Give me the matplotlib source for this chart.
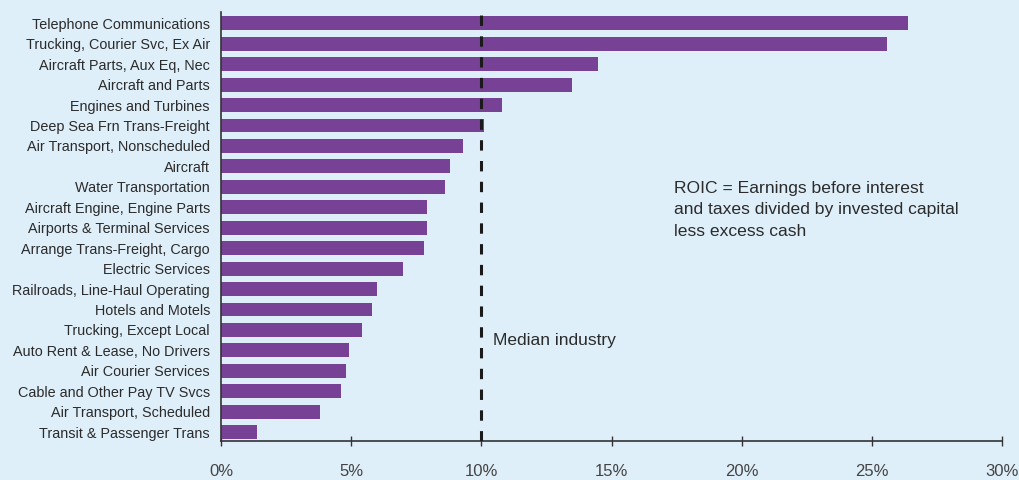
import matplotlib.pyplot as plt
import numpy as np

plt.rcParams['font.family'] = ['Liberation Sans', 'DejaVu Sans']

industries = [
    'Telephone Communications', 'Trucking, Courier Svc, Ex Air', 'Aircraft Parts, Aux Eq, Nec',
    'Aircraft and Parts', 'Engines and Turbines', 'Deep Sea Frn Trans-Freight',
    'Air Transport, Nonscheduled', 'Aircraft', 'Water Transportation',
    'Aircraft Engine, Engine Parts', 'Airports & Terminal Services', 'Arrange Trans-Freight, Cargo',
    'Electric Services', 'Railroads, Line-Haul Operating', 'Hotels and Motels',
    'Trucking, Except Local', 'Auto Rent & Lease, No Drivers', 'Air Courier Services',
    'Cable and Other Pay TV Svcs', 'Air Transport, Scheduled', 'Transit & Passenger Trans',
]
roic = [26.4, 25.6, 14.5, 13.5, 10.8, 10.1, 9.3, 8.8, 8.6, 7.9, 7.9, 7.8,
        7.0, 6.0, 5.8, 5.4, 4.9, 4.8, 4.6, 3.8, 1.4]
median_roic = 10
xticks = [0, 5, 10, 15, 20, 25, 30]

bg = '#dfeffa'
purple = '#774296'
txt = '#2b2b2b'

fig = plt.figure(figsize=(10.19, 4.8), dpi=100, facecolor=bg)
ax = fig.add_axes([0.2169, 0.081, 0.7664, 0.894], facecolor=bg)

y = np.arange(len(industries))
ax.barh(y, roic, height=0.68, color=purple, zorder=2)
ax.axvline(median_roic, color='#1a1a1a', lw=2.2, ls=(0, (3.4, 3.4)), zorder=3)

ax.set_ylim(len(industries) - 1 + 0.44, -0.55)
ax.set_xlim(0, 30)
ax.set_yticks(y)
ax.set_yticklabels(industries, fontsize=10.4, color=txt)
ax.set_xticks(xticks)
ax.set_xticklabels([f'{t}%' for t in xticks], fontsize=12, color='#444444')
ax.tick_params(axis='y', length=0, pad=8)
ax.tick_params(axis='x', direction='inout', length=7, width=1, color='#333333', pad=13)

for s in ['top', 'right']:
    ax.spines[s].set_visible(False)
for s in ['left', 'bottom']:
    ax.spines[s].set_color('#333333')
    ax.spines[s].set_linewidth(1.2)

ax.text(median_roic + 0.45, 15.5, 'Median industry', fontsize=12.5, color=txt, va='center')
ax.text(17.4, 7.7, 'ROIC = Earnings before interest\nand taxes divided by invested capital\nless excess cash',
        fontsize=12.6, color=txt, va='top', linespacing=1.55)

fig.savefig('out.png', dpi=100, facecolor=bg)
